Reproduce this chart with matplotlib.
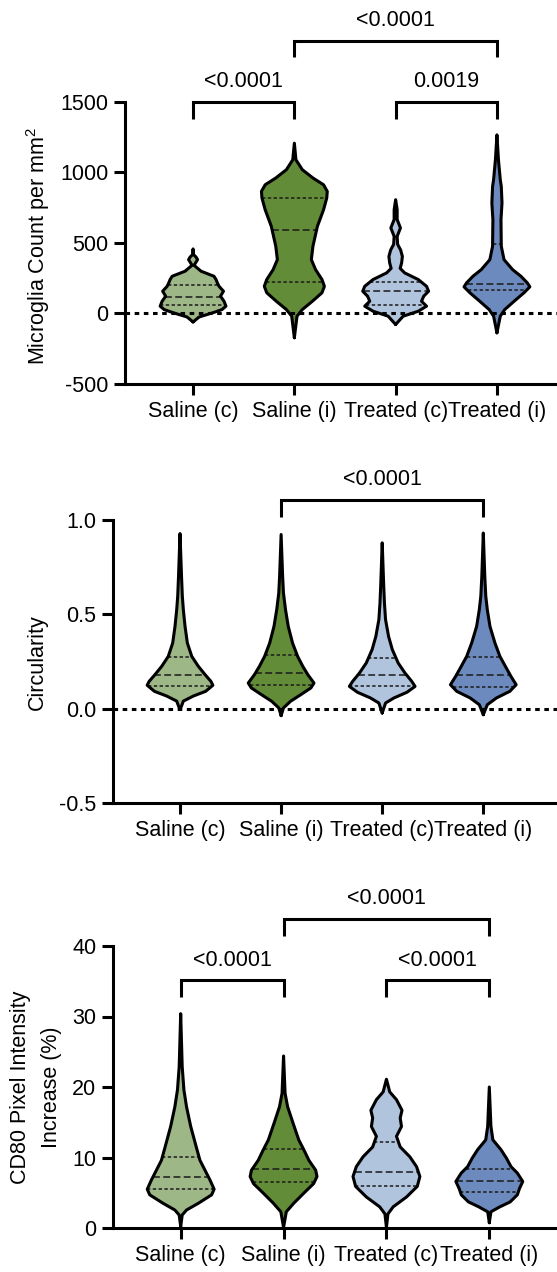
import numpy as np
import matplotlib
matplotlib.use("Agg")
import matplotlib.pyplot as plt

plt.rcParams['font.family'] = ['Liberation Sans', 'DejaVu Sans']
plt.rcParams['axes.unicode_minus'] = False
plt.rcParams['mathtext.fontset'] = 'custom'
plt.rcParams['mathtext.rm'] = 'Liberation Sans'
plt.rcParams['mathtext.default'] = 'rm'

groups = ["Saline (c)", "Saline (i)", "Treated (c)", "Treated (i)"]
colors = ["#9DB787", "#628C37", "#B0C4DE", "#6C8ABE"]

# ---- Microglia count per mm^2: violin outlines (level, relative width) ----
count_levels = [
    [458, 418, 400, 382, 365, 342, 300, 264, 241, 215, 193, 158, 123, 87, 52, 28, 8, -25, -60],
    [1208, 1090, 1020, 961, 913, 866, 819, 736, 618, 477, 382, 311, 241, 193, 147, 87, 28, -19, -172],
    [807, 736, 666, 607, 547, 490, 450, 405, 360, 320, 288, 260, 241, 193, 158, 123, 87, 52, 16, -19, -78],
    [1267, 1090, 949, 901, 784, 666, 477, 382, 311, 264, 217, 189, 147, 87, 28, -19, -137],
]
count_widths = [
    [0, 0.5, 3, 4.5, 3, 1, 8, 21, 23, 24.5, 26, 30.5, 27.5, 31, 33, 29, 21, 6, 0],
    [0, 1.5, 7.5, 17.5, 27.5, 31, 30.5, 27.5, 21.7, 17.5, 16, 20, 26, 28.3, 26, 17, 7.5, 2.5, 0],
    [0, 1.5, 1.5, 4.8, 1.5, 2, 5, 6.7, 6, 4.5, 9, 17, 22.5, 30.8, 32.8, 28, 25.8, 30.8, 22.5, 7.5, 0],
    [0, 1.5, 3.3, 4.3, 5, 4, 4.3, 7, 15.5, 23.7, 30, 32.5, 26.7, 17, 7.7, 3.3, 0],
]
count_quartiles = [(57, 118, 200), (220, 595, 818), (58, 157, 222), (164, 212, 490)]
count_pairs = [(1, 2), (3, 4), (2, 4)]
count_pvals = ["<0.0001", "0.0019", "<0.0001"]

# ---- Circularity ----
circ_levels = [
    [0.928, 0.70, 0.596, 0.525, 0.436, 0.348, 0.277, 0.224, 0.180, 0.145, 0.124, 0.092, 0.067, 0.040, 0.014, -0.004],
    [0.923, 0.70, 0.613, 0.525, 0.436, 0.348, 0.277, 0.224, 0.180, 0.136, 0.110, 0.074, 0.039, 0.004, -0.037],
    [0.879, 0.649, 0.560, 0.472, 0.383, 0.313, 0.242, 0.189, 0.145, 0.118, 0.087, 0.057, 0.030, -0.023],
    [0.931, 0.70, 0.596, 0.525, 0.436, 0.348, 0.277, 0.224, 0.171, 0.127, 0.092, 0.057, 0.021, -0.032],
]
circ_widths = [
    [0, 1.5, 2.3, 3.3, 5, 7.3, 11.7, 18.3, 25, 30.7, 32.7, 25.5, 13.3, 3.3, 1.5, 0],
    [0, 1.5, 2.3, 4.3, 7, 11.2, 16.2, 21.3, 26.2, 32.2, 29.2, 19.2, 9.2, 2.3, 0],
    [0, 1.5, 2.2, 3.3, 6.3, 10, 15.8, 22.5, 29.2, 32.5, 24.5, 11.7, 3.3, 0],
    [0, 1.5, 2.5, 4, 6.7, 11.7, 16.7, 22.2, 27.8, 33, 26.7, 13.3, 4, 0],
]
circ_quartiles = [(0.120, 0.176, 0.275), (0.124, 0.188, 0.284), (0.118, 0.177, 0.267), (0.115, 0.177, 0.276)]
circ_pairs = [(2, 4)]
circ_pvals = ["<0.0001"]

# ---- CD80 pixel intensity increase (%) ----
cd80_levels = [
    [30.4, 22.9, 19.6, 17.2, 14.4, 11.5, 9.6, 8.2, 6.8, 5.5, 4.7, 3.5, 2.55, 1.84, 0.2],
    [24.4, 19.1, 17.2, 14.9, 12.5, 11.1, 9.6, 8.2, 7.3, 6.3, 4.9, 3.5, 2.3, 0.1],
    [21.1, 19.3, 18.2, 16.7, 15.6, 14.4, 13.0, 11.5, 10.1, 8.7, 7.3, 5.9, 4.4, 3.0, 2.0, 0.1],
    [20.0, 14.4, 12.5, 11.1, 9.9, 8.7, 7.8, 6.6, 5.6, 4.7, 3.7, 3.0, 2.3, 0.75],
]
cd80_widths = [
    [0, 1.5, 3.2, 5.8, 10, 15.5, 19.2, 24.2, 29.2, 33.3, 30.8, 17.5, 5.8, 1.5, 0],
    [0, 1.5, 4, 9.3, 15, 20, 25, 31.7, 33, 29.7, 19.7, 10, 2.7, 0],
    [0, 3.3, 10, 15.5, 13.7, 15, 10, 13.7, 23.3, 30, 33.3, 30.7, 20, 6.7, 1.5, 0],
    [0, 1.5, 3.3, 10.8, 15.8, 20, 25.8, 30.8, 27.8, 25.8, 19.2, 9.7, 1.5, 0],
]
cd80_quartiles = [(5.5, 7.3, 10.1), (6.5, 8.3, 11.2), (6.0, 8.0, 12.2), (5.1, 6.7, 8.4)]
cd80_pairs = [(1, 2), (3, 4), (2, 4)]
cd80_pvals = ["<0.0001", "<0.0001", "<0.0001"]

W, H = 557, 1272
FS = 15.5
LW = 2.2
HALF = 0.325

fig = plt.figure(figsize=(W / 100, H / 100), dpi=100)


def px_axes(left, top, bottom, right=W):
    return fig.add_axes([left / W, 1 - bottom / H, (right - left) / W, (bottom - top) / H])


def style_axes(ax, xlim, ylim, yticks):
    ax.set_xlim(*xlim)
    ax.set_ylim(*ylim)
    ax.set_yticks(yticks)
    ax.set_xticks(range(1, 5))
    ax.set_xticklabels(groups)
    for s in ("top", "right"):
        ax.spines[s].set_visible(False)
    for s in ("left", "bottom"):
        ax.spines[s].set_linewidth(LW)
    ax.tick_params(width=LW, length=8, labelsize=FS, pad=4)
    ax.patch.set_alpha(0)


def violin(ax, x, levels, widths, quart, color):
    ys = np.asarray(levels, float)
    ws = np.asarray(widths, float)
    ws = ws / ws.max() * HALF
    order = np.argsort(ys)
    ys, ws = ys[order], ws[order]
    ax.fill_betweenx(ys, x - ws, x + ws, facecolor=color, edgecolor="none", zorder=2)
    for q, ls in zip(quart, [(0, (2.2, 1.6)), (0, (4.5, 2.2)), (0, (2.2, 1.6))]):
        w = np.interp(q, ys, ws)
        ax.plot([x - w, x + w], [q, q], color="#1a1a1a", lw=1.1, ls=ls, zorder=3)
    ox = np.concatenate([x - ws, (x + ws)[::-1]])
    oy = np.concatenate([ys, ys[::-1]])
    ax.plot(ox, oy, color="black", lw=LW, solid_joinstyle="round",
            solid_capstyle="round", zorder=4)


def bracket(ax, pair, text, y, leg, ty):
    x1, x2 = pair
    ax.plot([x1, x1, x2, x2], [leg, y, y, leg], color="black", lw=LW,
            solid_joinstyle="miter", solid_capstyle="butt", clip_on=False, zorder=6)
    ax.text((x1 + x2) / 2, ty, text, ha="center", va="baseline", fontsize=FS, clip_on=False)


def ylabel(x, y, text):
    fig.text(x / W, 1 - y / H, text, rotation=90, ha="center", va="center", fontsize=FS)


# Panel 1: microglia count
ax1 = px_axes(125, 102, 384)
style_axes(ax1, (0.328, 4.593), (-500, 1500), [-500, 0, 500, 1000, 1500])
for i in range(4):
    violin(ax1, i + 1, count_levels[i], count_widths[i], count_quartiles[i], colors[i])
ax1.axhline(0, color="black", lw=LW, ls=(0, (1.5, 1.5)), zorder=5)
bracket(ax1, count_pairs[0], count_pvals[0], 1500, 1380, 1605)
bracket(ax1, count_pairs[1], count_pvals[1], 1500, 1380, 1605)
bracket(ax1, count_pairs[2], count_pvals[2], 1933, 1820, 2039)
ylabel(38, 246, "Microglia Count per mm$^2$")

# Panel 2: circularity
ax2 = px_axes(113, 520, 803)
style_axes(ax2, (0.337, 4.729), (-0.5, 1.0), [-0.5, 0.0, 0.5, 1.0])
ax2.set_yticklabels(["-0.5", "0.0", "0.5", "1.0"])
for i in range(4):
    violin(ax2, i + 1, circ_levels[i], circ_widths[i], circ_quartiles[i], colors[i])
ax2.axhline(0, color="black", lw=LW, ls=(0, (1.5, 1.5)), zorder=5)
bracket(ax2, circ_pairs[0], circ_pvals[0], 1.108, 1.018, 1.188)
ylabel(37, 662, "Circularity")

# Panel 3: CD80 intensity
ax3 = px_axes(113, 946, 1228)
style_axes(ax3, (0.342, 4.658), (0, 40), [0, 10, 20, 30, 40])
for i in range(4):
    violin(ax3, i + 1, cd80_levels[i], cd80_widths[i], cd80_quartiles[i], colors[i])
bracket(ax3, cd80_pairs[0], cd80_pvals[0], 35.18, 32.8, 37.2)
bracket(ax3, cd80_pairs[1], cd80_pvals[1], 35.18, 32.8, 37.2)
bracket(ax3, cd80_pairs[2], cd80_pvals[2], 43.83, 41.4, 45.96)
ylabel(21, 1087, "CD80 Pixel Intensity")
ylabel(51, 1087, "Increase (%)")

fig.savefig("out.png", dpi=100)
